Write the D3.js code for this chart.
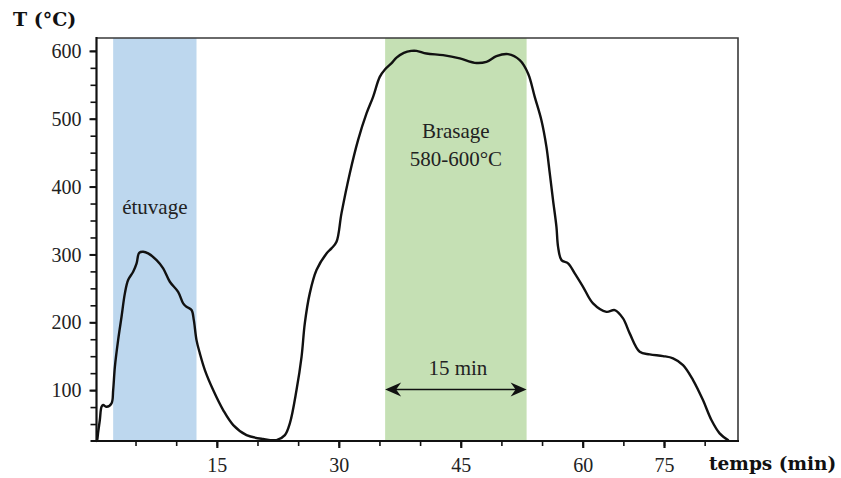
<!DOCTYPE html>
<html>
<head>
<meta charset="utf-8">
<script src="https://cdn.jsdelivr.net/npm/d3@7"></script>
<style>
  html, body { margin: 0; padding: 0; background: #fff; }
  svg { display: block; }
</style>
</head>
<body>
<svg id="chart" width="841" height="478"></svg>
<script>
// ---- data ----
const timeMin = [0.2,0.28,0.41,0.61,0.82,1.02,1.44,2.05,2.25,2.46,2.86,3.28,3.69,4.09,4.71,5.13,5.45,5.94,6.55,7.59,8.4,9.22,10.24,10.86,11.27,11.89,12.17,12.5,12.91,13.53,14.55,15.78,17.02,18.65,20.69,22.34,23.37,23.98,24.8,25.42,25.82,26.43,27.26,28.49,29.1,29.72,30.33,31.35,32.37,33.41,34.22,35.04,35.7,36.5,37.1,38.0,38.9,39.56,40.79,42.83,44.88,46.72,48.16,49.39,50.82,52.26,53.28,54.1,54.92,55.54,55.95,56.35,56.77,56.97,57.39,58.2,59.02,60.04,61.27,62.92,63.94,64.96,65.78,67.01,68.24,69.88,71.11,72.34,73.57,74.79,75.83,76.84,77.87];
const tempC   = [25,26.4,38.6,55.9,75.4,78,75.4,80.5,100.1,134.4,173.7,208.1,242.6,262.2,274.4,286.8,302.4,303.9,301.5,291.6,279.4,259.7,244.9,227.8,222.8,218,203.2,173.7,154.1,129.5,100.1,70.6,48.5,33.7,27.9,26.4,33.7,51,100.1,149.1,198.3,242.6,276.9,301.5,308.9,318.6,360.5,419.4,468.5,507.8,532.3,561.7,573,582,590,597,600,600.1,596.2,593.7,588.9,582.4,583.9,592.3,595.2,586.4,566.8,532.3,497.9,458.6,419.4,380.1,340.7,311.2,291.6,286.8,272,252.3,227.8,215.4,217.9,205.7,183.6,156.5,152.7,150.2,146.8,136.9,114.8,85.3,55.9,36.3,26.4];

const bandNames  = ["étuvage", "Brasage"];
const bandStart  = [2.25, 35.7];
const bandEnd    = [12.5, 53.1];
const bandColors = ["#bdd7ee", "#c5e0b4"];

const xMinorTicks  = [5,10,15,20,25,30,35,40,45,50,55,60,65,70,75];
const xMajorTicks  = [15,30,45,60,70];
const xMajorLabels = ["15","30","45","60","75"];
const yMinorTicks  = [50,75,100,125,150,175,200,225,250,275,300,325,350,375,400,425,450,475,500,525,550,575,600];
const yMajorTicks  = [100,200,300,400,500,600];

const xLabel = "temps (min)";
const yLabel = "T (°C)";

// ---- scales ----
const svg = d3.select("#chart");
const L = 96.5, R = 738, T = 38, B = 441;
const x = d3.scaleLinear().domain([0.2, 79.1]).range([L, R]);
const y = d3.scaleLinear().domain([25, 619]).range([B, T]);

const serif = "'Liberation Serif', 'Times New Roman', serif";
const boldSerif = "'DejaVu Serif', serif";

// bands
svg.append("g").selectAll("rect").data(bandStart).join("rect")
  .attr("x", (d) => x(d))
  .attr("width", (d, i) => x(bandEnd[i]) - x(d))
  .attr("y", T).attr("height", B - T)
  .attr("fill", (d, i) => bandColors[i]);

// frame (top & right)
svg.append("path")
  .attr("d", `M${L},${T}H${R}V${B}`)
  .attr("fill", "none").attr("stroke", "#3a3a3a").attr("stroke-width", 1.6);

// curve
const line = d3.line().x((d) => x(d[0])).y((d) => y(d[1])).curve(d3.curveCatmullRom.alpha(0.5));
svg.append("path")
  .datum(timeMin.map((t, i) => [t, tempC[i]]))
  .attr("d", line)
  .attr("fill", "none").attr("stroke", "#111").attr("stroke-width", 2.4)
  .attr("stroke-linejoin", "round").attr("stroke-linecap", "round");

// y axis
const yMinor = svg.append("g").attr("transform", `translate(${L},0)`)
  .call(d3.axisLeft(y).tickValues(yMinorTicks).tickSize(6).tickFormat(""));
yMinor.select(".domain").remove();
yMinor.selectAll("line").attr("stroke", "#111").attr("stroke-width", 1.6);
const yMajor = svg.append("g").attr("transform", `translate(${L},0)`)
  .call(d3.axisLeft(y).tickValues(yMajorTicks).tickSize(7).tickPadding(8).tickFormat(d3.format("d")));
yMajor.select(".domain").remove();
yMajor.selectAll("line").attr("stroke", "#111").attr("stroke-width", 2);
yMajor.selectAll("text").attr("font-family", serif).attr("font-size", 20).attr("fill", "#222").attr("dy", "0.33em");

// x axis
const xMinor = svg.append("g").attr("transform", `translate(0,${B})`)
  .call(d3.axisBottom(x).tickValues(xMinorTicks).tickSize(5).tickFormat(""));
xMinor.select(".domain").remove();
xMinor.selectAll("line").attr("stroke", "#111").attr("stroke-width", 1.6);
const xMajor = svg.append("g").attr("transform", `translate(0,${B})`)
  .call(d3.axisBottom(x).tickValues(xMajorTicks).tickSize(7).tickPadding(10)
        .tickFormat((d, i) => xMajorLabels[i]));
xMajor.select(".domain").remove();
xMajor.selectAll("line").attr("stroke", "#111").attr("stroke-width", 2.2);
xMajor.selectAll("text").attr("font-family", serif).attr("font-size", 20).attr("fill", "#222").attr("dy", "0.72em");

// spines
svg.append("line").attr("x1", L).attr("x2", L).attr("y1", T - 1).attr("y2", B)
  .attr("stroke", "#111").attr("stroke-width", 2.2);
svg.append("line").attr("x1", L - 6).attr("x2", R + 1).attr("y1", B).attr("y2", B)
  .attr("stroke", "#111").attr("stroke-width", 2.2);

// axis titles
svg.append("text").attr("x", 13).attr("y", 26).text(yLabel)
  .attr("font-family", boldSerif).attr("font-weight", "bold").attr("font-size", 19).attr("fill", "#111");
svg.append("text").attr("x", 709).attr("y", 470).text(xLabel)
  .attr("font-family", boldSerif).attr("font-weight", "bold").attr("font-size", 18.5).attr("fill", "#111");

// annotations
const cx0 = (x(bandStart[0]) + x(bandEnd[0])) / 2;
const cx1 = (x(bandStart[1]) + x(bandEnd[1])) / 2;
svg.append("text").attr("x", cx0).attr("y", y(360)).attr("text-anchor", "middle")
  .attr("font-family", serif).attr("font-size", 21).attr("fill", "#222").text(bandNames[0]);
svg.append("text").attr("x", cx1).attr("y", y(471)).attr("text-anchor", "middle")
  .attr("font-family", serif).attr("font-size", 21).attr("fill", "#222").text(bandNames[1]);
svg.append("text").attr("x", cx1).attr("y", y(430)).attr("text-anchor", "middle")
  .attr("font-family", serif).attr("font-size", 21).attr("fill", "#222").text("580-600°C");
svg.append("text").attr("x", cx1 + 2).attr("y", y(122)).attr("text-anchor", "middle")
  .attr("font-family", serif).attr("font-size", 21).attr("fill", "#222").text("15 min");

// double arrow
const ay = y(101);
const xa = x(bandStart[1]), xb = x(bandEnd[1]);
svg.append("line").attr("x1", xa + 8).attr("x2", xb - 8).attr("y1", ay).attr("y2", ay)
  .attr("stroke", "#111").attr("stroke-width", 1.6);
const head = (tip, dir) => `M${tip},${ay}L${tip + dir * 16},${ay - 7}L${tip + dir * 11},${ay}L${tip + dir * 16},${ay + 7}Z`;
svg.append("path").attr("d", head(xa, 1)).attr("fill", "#111");
svg.append("path").attr("d", head(xb, -1)).attr("fill", "#111");
</script>
</body>
</html>
